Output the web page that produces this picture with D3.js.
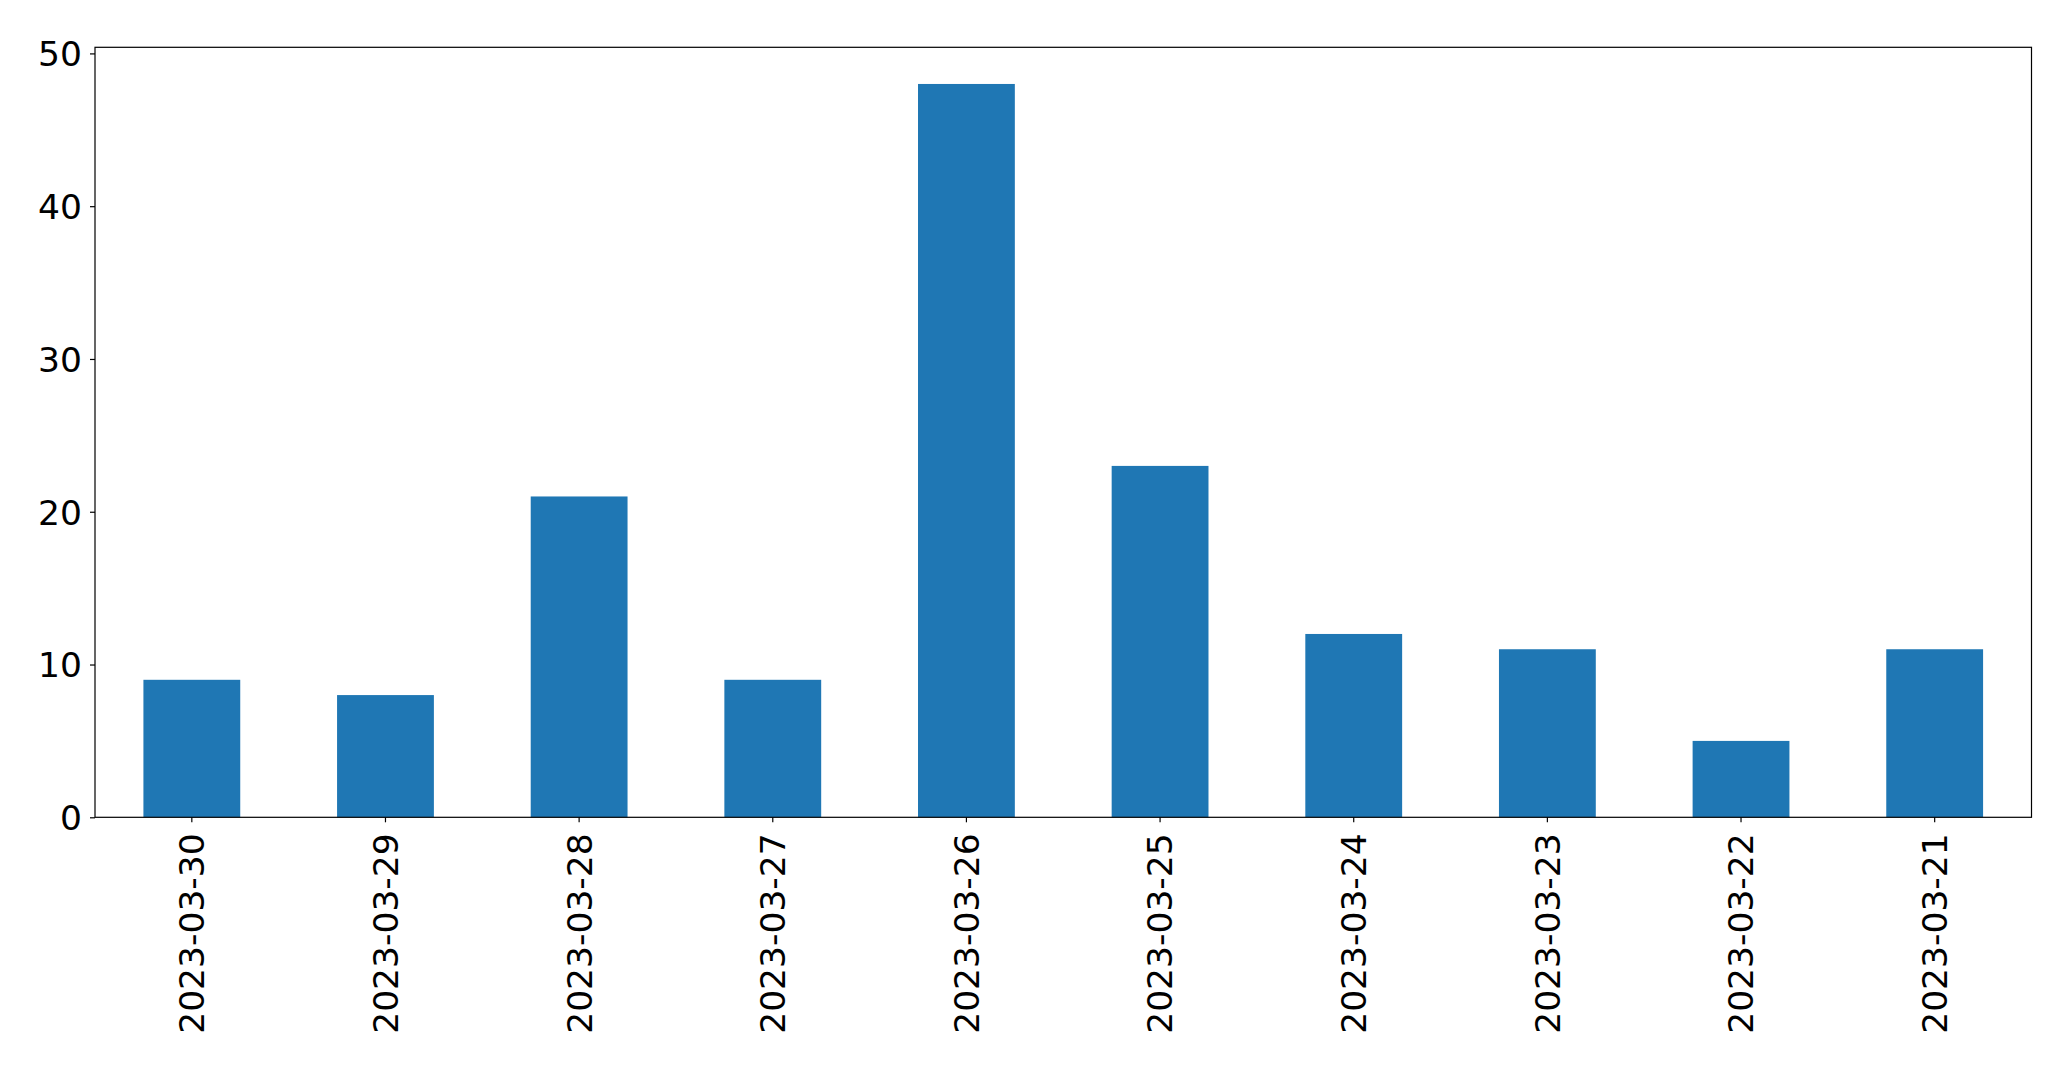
<!DOCTYPE html>
<html><head><meta charset="utf-8">
<script src="https://cdn.jsdelivr.net/npm/d3@7/dist/d3.min.js"></script>
<style>body{margin:0;background:#fff}svg{display:block}</style>
</head><body>
<svg id="c" width="2071" height="1069"></svg>
<script>
const categories = ["2023-03-30","2023-03-29","2023-03-28","2023-03-27","2023-03-26","2023-03-25","2023-03-24","2023-03-23","2023-03-22","2023-03-21"];
const values = [9, 8, 21, 9, 48, 23, 12, 11, 5, 11];
const yTicks = [0, 10, 20, 30, 40, 50];

const svg = d3.select("#c");
const L = 95, R = 2031.5, T = 47.3, B = 817.3;
const fontSize = 34.5;

const x = d3.scaleBand().domain(categories).range([L, R]).paddingInner(0.5).paddingOuter(0.25);
const y = d3.scaleLinear().domain([0, d3.max(values) * 1.05]).range([B, T]);

svg.append("g").selectAll("rect").data(values).join("rect")
  .attr("x", (d, i) => x(categories[i]))
  .attr("width", x.bandwidth())
  .attr("y", d => y(d))
  .attr("height", d => B - y(d))
  .attr("fill", "#1f77b4");

const yAxis = svg.append("g").attr("transform", `translate(${L},0)`)
  .call(d3.axisLeft(y).tickValues(yTicks).tickSize(5).tickPadding(8).tickSizeOuter(0));
const xAxis = svg.append("g").attr("transform", `translate(0,${B})`)
  .call(d3.axisBottom(x).tickSize(5).tickSizeOuter(0));

[yAxis, xAxis].forEach(a => {
  a.select(".domain").remove();
  a.selectAll(".tick line").attr("stroke", "#000").attr("stroke-width", 1.2);
  a.selectAll("text").attr("fill", "#000")
    .style("font-family", "'DejaVu Sans', sans-serif").style("font-size", fontSize + "px");
});
yAxis.selectAll("text").attr("dy", "0.36em");
xAxis.selectAll("text")
  .attr("transform", "rotate(-90)")
  .attr("text-anchor", "end")
  .attr("x", -16).attr("y", 0).attr("dy", "0.36em");

svg.append("rect").attr("x", L).attr("y", T).attr("width", R - L).attr("height", B - T)
  .attr("fill", "none").attr("stroke", "#000").attr("stroke-width", 1.2);
</script>
</body></html>
